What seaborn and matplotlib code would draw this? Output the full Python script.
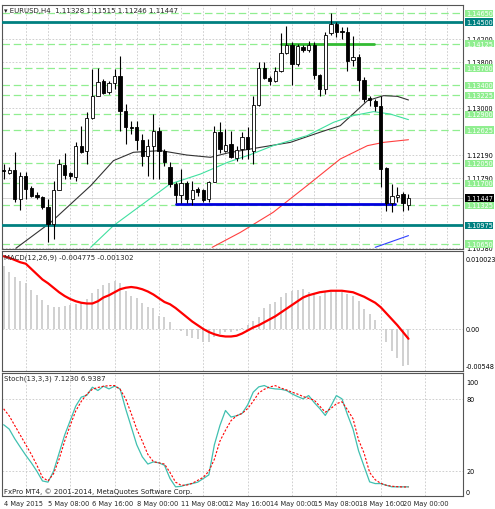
import matplotlib
matplotlib.use("Agg")
import matplotlib.pyplot as plt
import numpy as np
import pandas as pd
import seaborn as sns

# EURUSD H4 candles
opens = [1.11939, 1.11881, 1.11939, 1.11430, 1.11835, 1.11615, 1.11499, 1.11471, 1.11286, 1.10996,
         1.11589, 1.12025, 1.11881, 1.11806, 1.12355, 1.12269, 1.12835, 1.13222, 1.13476, 1.13291,
         1.13436, 1.13557, 1.12950, 1.12684, 1.12673, 1.12458, 1.12182, 1.12355, 1.12615, 1.12269,
         1.11979, 1.11690, 1.11499, 1.11707, 1.11430, 1.11596, 1.11578, 1.11430, 1.11731, 1.12586,
         1.12269, 1.12384, 1.12136, 1.12297, 1.12499, 1.12269, 1.13060, 1.13702, 1.13528, 1.13471,
         1.13655, 1.13962, 1.14106, 1.13771, 1.14071, 1.14019, 1.14100, 1.13580, 1.13337, 1.14303,
         1.14465, 1.14337, 1.14320, 1.13846, 1.13887, 1.13499, 1.13176, 1.13135, 1.13037, 1.11962,
         1.11361, 1.11471, 1.11517, 1.11328]
highs = [1.12037, 1.11979, 1.12251, 1.11892, 1.11892, 1.11661, 1.11546, 1.11488, 1.11430, 1.11748,
         1.12124, 1.12228, 1.11904, 1.12412, 1.12702, 1.12933, 1.13684, 1.13696, 1.13511, 1.13482,
         1.13684, 1.13904, 1.13077, 1.12788, 1.12788, 1.12557, 1.12470, 1.12904, 1.12673, 1.12297,
         1.12066, 1.11731, 1.11950, 1.11748, 1.11748, 1.11632, 1.11596, 1.11748, 1.12702, 1.12771,
         1.12644, 1.12615, 1.12355, 1.12586, 1.12673, 1.13222, 1.13800, 1.13800, 1.13569, 1.13713,
         1.14308, 1.14424, 1.14147, 1.14118, 1.14100, 1.14176, 1.14147, 1.13598, 1.14320, 1.14655,
         1.14494, 1.14407, 1.14407, 1.14262, 1.13944, 1.13540, 1.13222, 1.13164, 1.13210, 1.11979,
         1.11690, 1.11632, 1.11546, 1.11515]
lows = [1.11777, 1.11863, 1.11372, 1.11245, 1.11430, 1.11459, 1.11430, 1.11257, 1.10679, 1.10737,
        1.11578, 1.11777, 1.11777, 1.11748, 1.12228, 1.12037, 1.12817, 1.13210, 1.13251, 1.13251,
        1.13337, 1.12615, 1.12384, 1.12557, 1.12286, 1.12008, 1.11835, 1.11777, 1.11777, 1.12008,
        1.11632, 1.11361, 1.11361, 1.11361, 1.11326, 1.11488, 1.11372, 1.11384, 1.11719, 1.12228,
        1.12240, 1.12136, 1.12095, 1.12124, 1.12124, 1.12037, 1.13037, 1.13511, 1.13407, 1.13453,
        1.13626, 1.13944, 1.13407, 1.13742, 1.13973, 1.13985, 1.13511, 1.13222, 1.13251, 1.14274,
        1.14233, 1.14204, 1.13655, 1.13742, 1.13308, 1.13106, 1.13048, 1.12962, 1.11632, 1.11228,
        1.11199, 1.11372, 1.11228, 1.11246]
closes = [1.11921, 1.11939, 1.11430, 1.11835, 1.11603, 1.11488, 1.11465, 1.11286, 1.10996, 1.11589,
          1.12037, 1.11846, 1.11823, 1.12355, 1.12251, 1.12835, 1.13222, 1.13465, 1.13268, 1.13436,
          1.13557, 1.12950, 1.12673, 1.12661, 1.12458, 1.12182, 1.12355, 1.12615, 1.12269, 1.12066,
          1.11690, 1.11499, 1.11707, 1.11430, 1.11589, 1.11560, 1.11418, 1.11731, 1.12586, 1.12297,
          1.12372, 1.12153, 1.12286, 1.12499, 1.12297, 1.13060, 1.13702, 1.13528, 1.13471, 1.13655,
          1.13962, 1.14106, 1.13771, 1.14077, 1.14019, 1.14100, 1.13580, 1.13337, 1.14274, 1.14465,
          1.14320, 1.14320, 1.13829, 1.13887, 1.13499, 1.13164, 1.13152, 1.13037, 1.11950, 1.11361,
          1.11488, 1.11505, 1.11361, 1.11447]

# moving averages (candle index, price)
ma_black_idx = [2.2, 8.5, 15.7, 19.8, 23.4, 28.3, 33, 37.3, 40.4, 44.5, 51.7, 57, 60.7, 65.6, 68.5, 71, 73]
ma_black_val = [1.10575, 1.11025, 1.11661, 1.12095, 1.12240, 1.12269, 1.12193, 1.12153, 1.12228, 1.12297,
                1.12412, 1.12586, 1.12702, 1.13135, 1.13222, 1.13210, 1.13147]
ma_green_idx = [15.7, 19.8, 24.7, 30, 35.5, 40.4, 44.5, 48.6, 54.7, 59.5, 63, 66.7, 69.7, 73]
ma_green_val = [1.10592, 1.10968, 1.11315, 1.11690, 1.11863, 1.12066, 1.12200, 1.12355, 1.12528, 1.12760,
                1.12875, 1.12945, 1.12904, 1.12806]
ma_red_idx = [37.6, 42.7, 48.6, 54.7, 60.7, 65.6, 68.5, 73]
ma_red_val = [1.10592, 1.10852, 1.11199, 1.11661, 1.12124, 1.12355, 1.12412, 1.12458]
ma_blue_idx = [67, 73]
ma_blue_val = [1.10592, 1.10795]

# MACD(12,26,9)
macd_main = [0.00846, 0.00765, 0.0069, 0.00645, 0.0061, 0.0052, 0.00458, 0.0039, 0.0032, 0.0029,
             0.0030, 0.0031, 0.00325, 0.0034, 0.00365, 0.0040, 0.0048, 0.0054, 0.0059, 0.0061,
             0.00645, 0.0062, 0.0051, 0.00445, 0.0041, 0.00347, 0.0030, 0.00276, 0.00178, 0.00156,
             0.00089, 0.0, -0.0002, -0.00098, -0.00125, -0.00134, -0.00169, -0.00169, -0.0011, -0.00067,
             -0.00045, -0.00045, -0.0002, 0.0002, 0.0005, 0.0011, 0.00156, 0.00276, 0.0033, 0.00365,
             0.0043, 0.0048, 0.0051, 0.0052, 0.0053, 0.0049, 0.0048, 0.00445, 0.0050, 0.0049,
             0.0051, 0.0050, 0.0047, 0.00445, 0.0038, 0.00267, 0.0020, 0.00125, 0.0, -0.00178,
             -0.0029, -0.0038, -0.0049, -0.004775]
macd_signal = [0.0097, 0.0095, 0.0092, 0.0089, 0.0087, 0.0080, 0.0073, 0.0066, 0.0061, 0.0055,
               0.0049, 0.0044, 0.0040, 0.0037, 0.0035, 0.0034, 0.0034, 0.0037, 0.0042, 0.0045,
               0.0049, 0.0053, 0.0055, 0.0056, 0.0055, 0.0053, 0.0050, 0.0046, 0.0041, 0.0036,
               0.0033, 0.0028, 0.0022, 0.0016, 0.0010, 0.0005, 0.0000, -0.0004, -0.0007, -0.0009,
               -0.0010, -0.0010, -0.0009, -0.0006, -0.0002, 0.0002, 0.0005, 0.0009, 0.0013, 0.0017,
               0.0022, 0.0027, 0.0032, 0.0037, 0.0042, 0.0045, 0.0047, 0.0049, 0.0050, 0.0051,
               0.0051, 0.0051, 0.0050, 0.0049, 0.0046, 0.0043, 0.0039, 0.0035, 0.0029, 0.0021,
               0.0013, 0.0005, -0.0004, -0.0013]

# Stoch(13,3,3)
stoch_k = [58.6, 55, 47, 40, 33.2, 27, 20, 12, 11, 20, 35, 50, 62, 74, 81.5, 83, 89.7, 87, 90.6, 88.3,
           90.6, 88.3, 71.8, 57, 42, 32, 26, 27.8, 27, 25, 14, 7.1, 7.5, 9, 9.8, 11, 14, 17, 42, 58,
           70.4, 65, 66, 68, 75, 85.6, 90, 91.1, 89, 88.3, 88, 87, 84.2, 82, 80.1, 82.8, 77, 72, 66.3, 74,
           82.8, 80.1, 67, 55, 37, 24, 11.2, 9.8, 9.8, 8.4, 7.1, 7.1, 7.1, 7.123]
stoch_d = [71.8, 66, 58, 50, 42, 34, 25, 15, 12, 18, 30, 45, 58, 70, 78, 84, 88, 89.5, 90.5, 91,
           91.1, 88, 80.1, 68, 55, 45, 34, 28, 27, 26, 19, 11, 8.4, 8.5, 10, 12.5, 15, 20, 30, 45,
           54, 62, 66, 68, 72, 78, 85, 88, 90, 91, 89, 87.5, 85.6, 84, 82, 80.5, 79, 74, 69, 72,
           76, 77.6, 71, 63.6, 46, 35, 19, 13, 10, 8.4, 7.6, 7.2, 7.0, 6.94]

date_labels = ["4 May 2015", "5 May 08:00", "6 May 16:00", "8 May 00:00", "11 May 08:00",
               "12 May 16:00", "14 May 00:00", "15 May 08:00", "18 May 16:00", "20 May 00:00"]

green_levels = [1.14650, 1.14125, 1.13700, 1.13400, 1.13225, 1.12900, 1.12625, 1.12050, 1.11700, 1.11325, 1.10650]
teal_levels = [1.14500, 1.10975]
grid_prices = [1.14200, 1.13800, 1.13000, 1.12190, 1.11790, 1.10580]

sns.set_style("white")
plt.rcParams["font.family"] = ["DejaVu Sans"]
FS = 5.0
FS_R = 4.7
TEAL = "#008080"
LGREEN = "#90EE90"

n = len(closes)
idx = np.arange(n)
df = pd.DataFrame({"i": idx, "o": opens, "h": highs, "l": lows, "c": closes,
                   "macd": macd_main, "sig": macd_signal, "k": stoch_k, "d": stoch_d})

fig = plt.figure(figsize=(4.95, 5.10), dpi=100)
L, W = 0.004, 0.931
ax1 = fig.add_axes([L, 1 - 250 / 510, W, 244 / 510])
ax2 = fig.add_axes([L, 1 - 372 / 510, W, 120 / 510], sharex=ax1)
ax3 = fig.add_axes([L, 1 - 497 / 510, W, 123 / 510], sharex=ax1)
XMIN, XMAX = -0.3, 82.8

for ax in (ax1, ax2, ax3):
    for s in ax.spines.values():
        s.set_color("#555555")
        s.set_linewidth(0.8)
    ax.tick_params(length=0, labelleft=False, labelbottom=False, labelright=False)

# ---- main price panel
ax1.set_xlim(XMIN, XMAX)
ax1.set_ylim(1.10563, 1.14794)
for gx in range(4, 83, 4):
    ax1.axvline(gx, color="#c8c8c8", lw=0.6, ls=(0, (2, 2)), zorder=0)
for gp in grid_prices:
    ax1.axhline(gp, color="#c8c8c8", lw=0.6, ls=(0, (2, 2)), zorder=0)
for lv in green_levels:
    ax1.axhline(lv, color=LGREEN, lw=0.9, ls=(0, (6, 3)), zorder=1)
ax1.axhline(closes[-1], color="#d0d0d0", lw=0.6, zorder=1)
for lv in teal_levels:
    ax1.axhline(lv, color=TEAL, lw=2.0, zorder=3)
ax1.plot([31, 70.5], [1.11349, 1.11349], color="#0000dd", lw=2.0, zorder=3)
ax1.plot([50, 66.8], [1.14118, 1.14118], color="#33bb33", lw=2.0, zorder=3)

sns.lineplot(x=ma_black_idx, y=ma_black_val, ax=ax1, color="#333333", lw=0.8, zorder=2)
sns.lineplot(x=ma_green_idx, y=ma_green_val, ax=ax1, color="#40e0a0", lw=0.8, zorder=2)
sns.lineplot(x=ma_red_idx, y=ma_red_val, ax=ax1, color="#ff4040", lw=0.8, zorder=2)
sns.lineplot(x=ma_blue_idx, y=ma_blue_val, ax=ax1, color="#3040ff", lw=0.8, zorder=2)

ax1.vlines(df["i"], df["l"], df["h"], color="black", lw=0.8, zorder=4)
bull = df["c"] >= df["o"]
body_lo = np.minimum(df["o"], df["c"])
body_h = np.maximum(np.abs(df["c"] - df["o"]), 0.00006)
ax1.bar(df["i"], body_h, bottom=body_lo, width=0.6,
        color=np.where(bull, "white", "black"), edgecolor="black", lw=0.6, zorder=5)

ax1.text(0.005, 0.99, "\u25BE EURUSD,H4  1.11328 1.11515 1.11246 1.11447",
         transform=ax1.transAxes, fontsize=FS, va="top", ha="left")

def right_label(ax, y, txt, fc=None, tc="black"):
    kw = dict(fontsize=FS_R, va="center", ha="left", color=tc, clip_on=False,
              transform=ax.get_yaxis_transform())
    if fc:
        kw["bbox"] = dict(boxstyle="square,pad=0.1", fc=fc, ec="none")
    ax.text(1.007, y, txt, **kw)

for gp in grid_prices:
    right_label(ax1, gp, f"{gp:.5f}")
for lv in green_levels:
    right_label(ax1, lv, f"{lv:.5f}", fc=LGREEN, tc="white")
for lv in teal_levels:
    right_label(ax1, lv, f"{lv:.5f}", fc=TEAL, tc="white")
right_label(ax1, closes[-1], f"{closes[-1]:.5f}", fc="black", tc="white")

# ---- MACD panel
ax2.set_ylim(-0.0056, 0.0104)
for gx in range(4, 83, 8):
    ax2.axvline(gx, color="#c8c8c8", lw=0.6, ls=(0, (2, 2)), zorder=0)
ax2.axhline(0, color="#c8c8c8", lw=0.6, ls=(0, (2, 2)), zorder=0)
ax2.vlines(df["i"], 0, df["macd"], color="#c8c8c8", lw=1.2, zorder=1)
sns.lineplot(data=df, x="i", y="sig", ax=ax2, color="red", lw=1.6, zorder=2)
ax2.text(0.005, 0.98, "MACD(12,26,9) -0.004775 -0.001302", transform=ax2.transAxes,
         fontsize=FS, va="top", ha="left")
right_label(ax2, 0.0094, "0.010023")
right_label(ax2, 0.0, "0.00")
right_label(ax2, -0.0050, "-0.00548")

# ---- Stochastic panel
ax3.set_ylim(-0.5, 101.5)
for gx in range(4, 83, 8):
    ax3.axvline(gx, color="#c8c8c8", lw=0.6, ls=(0, (2, 2)), zorder=0)
for lv in (80, 20):
    ax3.axhline(lv, color="#c8c8c8", lw=0.6, ls=(0, (2, 2)), zorder=0)
sns.lineplot(data=df, x="i", y="k", ax=ax3, color="#40c0b0", lw=0.9, zorder=2)
sns.lineplot(data=df, x="i", y="d", ax=ax3, color="red", lw=0.8, ls=(0, (2, 1.5)), zorder=3)
ax3.text(0.005, 0.985, "Stoch(13,3,3) 7.1230 6.9387", transform=ax3.transAxes,
         fontsize=FS, va="top", ha="left")
ax3.text(0.005, 0.02, "FxPro MT4, \u00a9 2001-2014, MetaQuotes Software Corp.",
         transform=ax3.transAxes, fontsize=FS, va="bottom", ha="left")
for lv, txt in ((94, "100"), (80, "80"), (20, "20"), (3, "0")):
    right_label(ax3, lv, txt)

for ax in (ax1, ax2, ax3):
    ax.set_xlabel("")
    ax.set_ylabel("")
ax3.set_xticks(range(0, 73, 8))
ax3.set_xticklabels(date_labels)
ax3.tick_params(axis="x", labelbottom=True, length=2, labelsize=4.8, pad=1, direction="out")
for t in ax3.get_xticklabels():
    t.set_ha("left")
ax1.set_xlim(XMIN, XMAX)

fig.savefig("out.png", dpi=100)
